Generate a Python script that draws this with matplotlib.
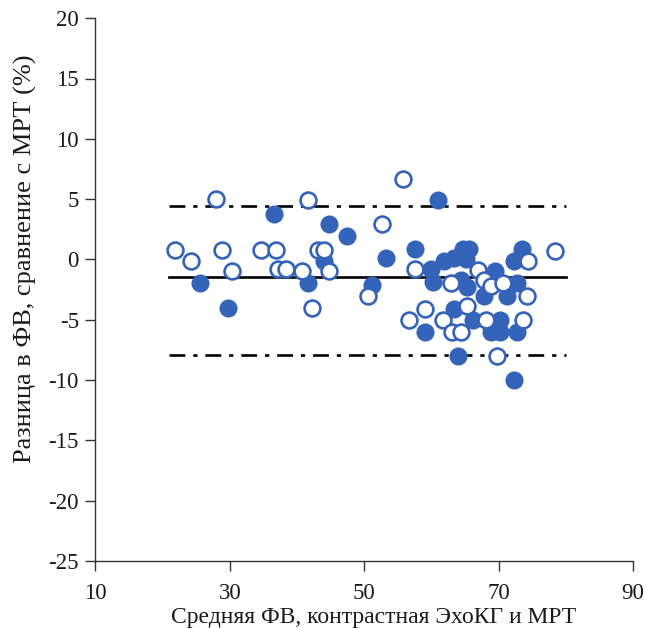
import matplotlib
matplotlib.use("Agg")
import matplotlib.pyplot as plt

# Open circles (mean EF, difference)
open_x = [28.0, 21.8, 24.2, 28.9, 30.3, 34.7, 36.8, 37.1, 38.3, 40.7, 42.2, 41.7,
          43.1, 44.0, 44.7, 52.6, 50.5, 55.7, 56.6, 57.5, 59.0, 61.7, 63.0, 64.4,
          62.9, 65.3, 66.9, 67.8, 68.8, 68.1, 70.6, 74.2, 73.6, 74.4, 78.4, 69.7]
open_y = [5.0, 0.8, -0.1, 0.8, -1.0, 0.8, 0.8, -0.8, -0.8, -1.0, -4.0, 4.9,
          0.8, 0.8, -1.0, 2.9, -3.0, 6.7, -5.0, -0.8, -4.1, -5.0, -6.0, -6.0,
          -2.0, -3.9, -0.9, -1.7, -2.2, -5.0, -2.0, -3.0, -5.0, -0.1, 0.7, -8.0]

# Filled circles (mean EF, difference)
fill_x = [36.5, 25.5, 29.7, 44.7, 47.4, 44.0, 41.7, 51.1, 53.2, 57.5, 61.0, 59.9,
          61.8, 64.7, 65.6, 65.1, 69.4, 73.5, 72.3, 60.2, 64.4, 65.3, 67.8, 71.2,
          72.7, 63.3, 66.2, 68.8, 70.2, 70.2, 72.7, 59.0, 63.9, 72.3, 63.3]
fill_y = [3.8, -2.0, -4.0, 2.9, 1.9, -0.1, -2.0, -2.1, 0.1, 0.9, 4.9, -0.8,
          -0.1, 0.9, 0.9, 0.0, -1.0, 0.9, -0.1, -1.9, -1.7, -2.3, -3.0, -3.0,
          -2.0, -4.1, -5.0, -6.0, -6.0, -5.0, -6.0, -6.0, -8.0, -10.0, 0.1]

# Bias and limits of agreement
line_range = [21, 80]
mean_diff = -1.5
upper_loa = 4.4
lower_loa = -7.9

x_ticks = [10, 30, 50, 70, 90]
y_ticks = [-25, -20, -15, -10, -5, 0, 5, 10, 15, 20]
x_label = "Средняя ФВ, контрастная ЭхоКГ и МРТ"
y_label = "Разница в ФВ, сравнение с МРТ (%)"

blue = "#3463BA"
txt = "#1a1a1a"

plt.rcParams["font.family"] = ["Liberation Serif", "DejaVu Serif"]
plt.rcParams["axes.unicode_minus"] = False
fig = plt.figure(figsize=(6.46, 6.28), dpi=100)
ax = fig.add_axes([0.1478, 0.107, 0.8321, 0.864])

ax.plot(line_range, [mean_diff, mean_diff], color="black", lw=1.9, zorder=1)
for v in (upper_loa, lower_loa):
    l, = ax.plot(line_range, [v, v], color="black", lw=1.9, zorder=1)
    l.set_dashes((6.0, 3.0, 1.6, 3.0))

ax.plot(fill_x, fill_y, "o", ms=11.8, mfc=blue, mec=blue, mew=1.2, ls="none", zorder=3)
ax.plot(open_x, open_y, "o", ms=11.4, mfc="white", mec=blue, mew=1.9, ls="none", zorder=3)

ax.set_xlim(10, 90)
ax.set_ylim(-25, 20)
ax.set_xticks(x_ticks)
ax.set_yticks(y_ticks)
ax.spines["top"].set_visible(False)
ax.spines["right"].set_visible(False)
for s in ("left", "bottom"):
    ax.spines[s].set_color("#333333")
    ax.spines[s].set_linewidth(1.0)
ax.tick_params(direction="out", length=7, width=1.0, color="#333333",
               labelsize=16.5, labelcolor=txt)
ax.tick_params(axis="x", pad=9)
ax.tick_params(axis="y", pad=5)
ax.set_xlabel(x_label, fontsize=17, color=txt, labelpad=2)
ax.set_ylabel(y_label, fontsize=19, color=txt, labelpad=8)
ax.xaxis.label.set_x(0.517)
ax.yaxis.label.set_y(0.556)

fig.savefig("out.png", dpi=100)
